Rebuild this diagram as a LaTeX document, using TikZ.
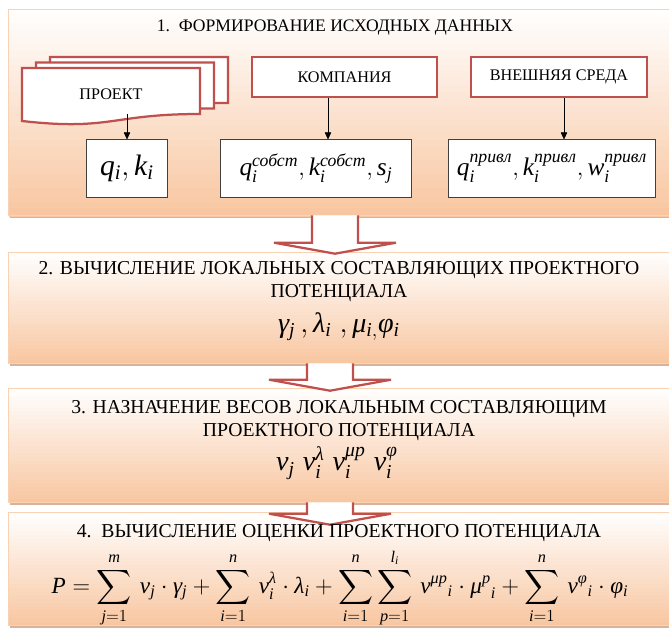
\documentclass[tikz,border=0pt]{standalone}
\usepackage{amsmath}
\usepackage{fontspec}
\setmainfont{Liberation Serif}[NFSSFamily=libser]
\usetikzlibrary{arrows.meta, calc}

% Times-like letters, greek and digits in formulas
\DeclareSymbolFont{timesit}{TU}{libser}{m}{it}
\DeclareSymbolFont{timesrm}{TU}{libser}{m}{n}
\newcount\lettercode
\lettercode=`a
\loop \Umathcode\lettercode=7 \symtimesit \lettercode
    \advance\lettercode by 1 \ifnum\lettercode<123 \repeat
\lettercode=`A
\loop \Umathcode\lettercode=7 \symtimesit \lettercode
    \advance\lettercode by 1 \ifnum\lettercode<91 \repeat
\lettercode=`0
\loop \Umathcode\lettercode=7 \symtimesrm \lettercode
    \advance\lettercode by 1 \ifnum\lettercode<58 \repeat
\Umathchardef\gamma=0 \symtimesit "03B3
\Umathchardef\lambda=0 \symtimesit "03BB
\Umathchardef\mu=0 \symtimesit "03BC
\Umathchardef\nu=0 \symtimesit "03BD
\Umathchardef\varphi=0 \symtimesit "03C6

\definecolor{peach}{HTML}{F8C6A0}
\definecolor{rim}{HTML}{F9D2B4}
\definecolor{tan}{HTML}{D8B39A}
\definecolor{docred}{HTML}{C0504D}

\newcommand{\cyrit}[1]{\text{\itshape #1}}

\begin{document}
\begin{tikzpicture}[
        x=0.025cm, y=-0.025cm,
        panel/.style={rectangle, minimum width=16.875cm, inner sep=0pt},
        redbox/.style={rectangle, draw=docred, line width=1.6pt, fill=white, minimum height=1cm,
            font=\fontsize{11.5}{13}\selectfont},
        varbox/.style={rectangle, draw=black!75, line width=0.7pt, fill=white, minimum height=1.425cm,
            inner sep=2pt, font=\fontsize{18}{20}\selectfont},
        heading/.style={align=center, font=\fontsize{14}{16.5}\selectfont},
        formula/.style={font=\fontsize{20}{22}\selectfont},
        arrow/.style={-{Triangle[length=5pt,width=4.5pt]}, thin}
    ]

    \tikzset{
    docpage/.style={draw=docred, line width=1.6pt, fill=white, line join=miter},
    bigarrow/.style={draw=docred, line width=1.6pt, line join=miter}
}

    \useasboundingbox (0,0) rectangle (669,628);

    % panels
    \path node[panel, minimum height=5.125cm] (one) at (346.5,112.5) {}
        node[panel, minimum height=2.75cm] (two) at (346.5,308) {}
        node[panel, minimum height=2.825cm] (three) at (346.5,445.5) {}
        node[panel, minimum height=2.8cm] (four) at (346.5,569) {};

    % shadow, gradient in strips, rim
    \foreach \p in {one,two,three,four} {
        \fill[tan] ($(\p.south west)+(1,-1)$) rectangle ($(\p.south east)+(1,2.5)$);
        \foreach \i in {0,...,29} {
            \pgfmathsetmacro\pct{100*(\i+0.5)/30}
            \fill[peach!\pct!white] ($(\p.north west)!{\i/30}!(\p.south west)$)
                rectangle ($(\p.north east)!{(\i+1.3)/30}!(\p.south east)$);
        }
        \draw[rim, line width=0.8pt] (\p.north west) rectangle (\p.south east);
    }

    % block arrows between panels
    \foreach \a/\b/\cx/\dt in {one/two/335/1, two/three/330/2, three/four/330/12} {
        \coordinate (top) at (\cx,0 |- \a.south);
        \coordinate (tip) at ($(\cx,0 |- \b.north)+(0,\dt)$);
        \fill[white] ($(top)+(-23,0)$) |- ($(tip)+(-61,-11)$) -- (tip) -- ($(tip)+(61,-11)$)
            -| ($(top)+(23,0)$) -- cycle;
        \draw[bigarrow] ($(top)+(-23,0)$) |- ($(tip)+(-61,-11)$) -- (tip) -- ($(tip)+(61,-11)$)
            -| ($(top)+(23,0)$);
    }

    % stage 1
    \node[heading, font=\fontsize{12.5}{15}\selectfont] (title1) at (335,28)
        {1.\ \ ФОРМИРОВАНИЕ ИСХОДНЫХ ДАННЫХ};

    \foreach \dx/\dy in {28/-11, 14/-5.5, 0/0}
        \filldraw[docpage, shift={(\dx,\dy)}] (22,68) -- (200,68) -- (200,114)
            .. controls (111,114) and (111,131) .. (22,121) -- cycle;
    \node[font=\fontsize{11.5}{13}\selectfont] (project) at (111,94) {ПРОЕКТ};
    \coordinate (projectbot) at (127,114);

    \node[redbox, minimum width=4.625cm] (company) at (344.5,77) {КОМПАНИЯ};
    \node[redbox, minimum width=4.4cm] (environment) at (559,77) {ВНЕШНЯЯ СРЕДА};

    \node[varbox, minimum width=2cm, font=\fontsize{21}{23}\selectfont] (qk) at (127,168.5) {$q_i,k_i$};
    \node[varbox, minimum width=4.75cm] (own) at (316,168.5)
        {$q_i^{\cyrit{собст}},k_i^{\cyrit{собст}},s_j$};
    \node[varbox, minimum width=5.15cm] (borrowed) at (552,168.5)
        {$q_i^{\cyrit{привл}},k_i^{\cyrit{привл}},w_i^{\cyrit{привл}}$};

    \draw[arrow] (projectbot) -- (qk);
    \draw[arrow] (328,0 |- company.south) -- (328,0 |- own.north);
    \draw[arrow] (564,0 |- environment.south) -- (564,0 |- borrowed.north);

    % stage 2
    \node[heading] (title2) at (339,281.5)
        {2. ВЫЧИСЛЕНИЕ ЛОКАЛЬНЫХ СОСТАВЛЯЮЩИХ ПРОЕКТНОГО\\ ПОТЕНЦИАЛА};
    \node[formula] (form2) at (339,327) {$\gamma_j\,,\lambda_i\;,\mu_{i,}\varphi_i$};

    % stage 3
    \node[heading] (title3) at (339,420.5)
        {3. НАЗНАЧЕНИЕ ВЕСОВ ЛОКАЛЬНЫМ СОСТАВЛЯЮЩИМ\\ ПРОЕКТНОГО ПОТЕНЦИАЛА};
    \node[formula] (form3) at (337,463) {$\nu_j\;\nu_i^{\lambda}\;\nu_i^{\mu p}\;\nu_i^{\varphi}$};

    % stage 4
    \node[heading] (title4) at (339,533) {4.\ \ ВЫЧИСЛЕНИЕ ОЦЕНКИ ПРОЕКТНОГО ПОТЕНЦИАЛА};
    \node[formula, font=\fontsize{16.5}{19}\selectfont] (form4) at (340,588)
        {$\displaystyle P=\sum_{j=1}^{m}\,\nu_j\cdot\gamma_j+\sum_{i=1}^{n}\,\nu_i^{\lambda}\cdot\lambda_i
        +\sum_{i=1}^{n}\sum_{p=1}^{l_i}\,{\nu^{\mu p}}_i\cdot{\mu^{p}}_i+\sum_{i=1}^{n}\,{\nu^{\varphi}}_i\cdot\varphi_i$};
    \end{tikzpicture}
\end{document}
